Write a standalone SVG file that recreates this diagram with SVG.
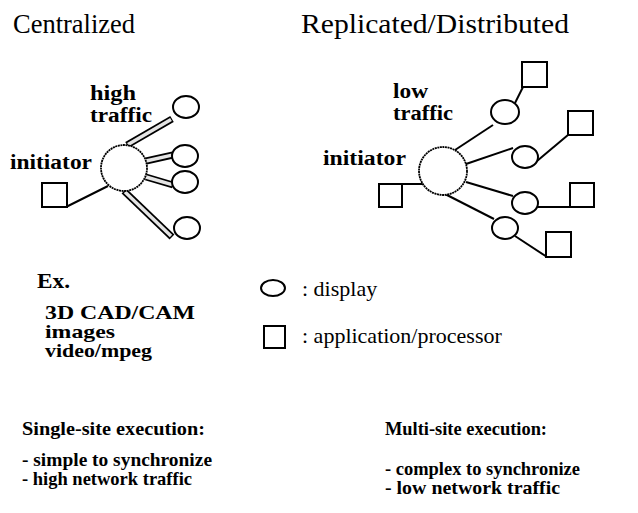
<svg xmlns="http://www.w3.org/2000/svg" width="638" height="513" viewBox="0 0 638 513">
<style>
text{font-family:"Liberation Serif","Times New Roman",serif;fill:#000}
.title{font-size:27px}
.lbl{font-size:20px;font-weight:bold}
.stk{font-size:19px;font-weight:bold}
.leg{font-size:22px}
.hub{fill:#fff;stroke:#000;stroke-width:1.8;stroke-dasharray:2 0.6}
.disp{fill:#fff;stroke:#000;stroke-width:2}
.app{fill:#fff;stroke:#000;stroke-width:2}
.ln{stroke:#000;stroke-width:2;fill:none}
.barO{stroke:#000;stroke-width:7;fill:none}
.barI{stroke:#e4e4e4;stroke-width:3.4;fill:none}
</style>
<rect width="638" height="513" fill="#fff"/>

<text class="title" x="13" y="33" textLength="122" lengthAdjust="spacingAndGlyphs">Centralized</text>
<text class="title" x="301" y="33" textLength="268" lengthAdjust="spacingAndGlyphs">Replicated/Distributed</text>

<!-- Centralized -->
<g id="connectors-left">
  <line class="ln" x1="66" y1="207" x2="108" y2="186"/>
  <line class="barO" x1="127" y1="145" x2="172" y2="119"/>
  <line class="barI" x1="128" y1="144.5" x2="171" y2="119.5"/>
  <line class="barO" x1="146" y1="161" x2="173" y2="155"/>
  <line class="barI" x1="146" y1="161" x2="172" y2="155.2"/>
  <line class="barO" x1="146" y1="177" x2="173" y2="185"/>
  <line class="barI" x1="146" y1="177" x2="172" y2="184.7"/>
  <line class="barO" x1="124" y1="191" x2="172" y2="237"/>
  <line class="barI" x1="125" y1="192" x2="171" y2="236"/>
</g>
<g id="c-hub"><circle class="hub" cx="124" cy="168" r="23"/></g>
<g id="c-init"><rect class="app" x="42" y="183" width="25" height="24"/></g>
<g id="c-d1"><ellipse class="disp" cx="186" cy="107" rx="13" ry="11"/></g>
<g id="c-d2"><ellipse class="disp" cx="185" cy="156" rx="13" ry="11"/></g>
<g id="c-d3"><ellipse class="disp" cx="185" cy="182" rx="13" ry="11"/></g>
<g id="c-d4"><ellipse class="disp" cx="187" cy="228" rx="13" ry="11"/></g>
<text class="lbl" x="90" y="100" textLength="46" lengthAdjust="spacingAndGlyphs">high</text>
<text class="lbl" x="90" y="122" textLength="62" lengthAdjust="spacingAndGlyphs">traffic</text>
<text class="lbl" x="10" y="169" textLength="82" lengthAdjust="spacingAndGlyphs">initiator</text>

<!-- Replicated -->
<g id="connectors-right">
  <line class="ln" x1="402" y1="184" x2="424" y2="184"/>
  <line class="ln" x1="455" y1="150" x2="493" y2="125"/>
  <line class="ln" x1="515" y1="103" x2="523" y2="87"/>
  <line class="ln" x1="466" y1="164" x2="513" y2="148"/>
  <line class="ln" x1="537" y1="161" x2="568" y2="135"/>
  <line class="ln" x1="466" y1="182" x2="513" y2="196"/>
  <line class="ln" x1="538" y1="207" x2="570" y2="207"/>
  <line class="ln" x1="445" y1="194" x2="494" y2="219"/>
  <line class="ln" x1="515" y1="236" x2="547" y2="257"/>
</g>
<g id="r-hub"><circle class="hub" cx="443" cy="171" r="24"/></g>
<g id="r-init"><rect class="app" x="379" y="184" width="23" height="23"/></g>
<g id="r-d1"><ellipse class="disp" cx="505" cy="112" rx="14" ry="12"/></g>
<g id="r-a1"><rect class="app" x="522" y="62" width="25" height="25"/></g>
<g id="r-d2"><ellipse class="disp" cx="525" cy="157" rx="13" ry="11"/></g>
<g id="r-a2"><rect class="app" x="568" y="111" width="25" height="24"/></g>
<g id="r-d3"><ellipse class="disp" cx="525" cy="203" rx="13" ry="11"/></g>
<g id="r-a3"><rect class="app" x="570" y="183" width="24" height="24"/></g>
<g id="r-d4"><ellipse class="disp" cx="505" cy="228" rx="13" ry="11"/></g>
<g id="r-a4"><rect class="app" x="546" y="232" width="25" height="25"/></g>
<text class="lbl" x="393" y="98" textLength="35" lengthAdjust="spacingAndGlyphs">low</text>
<text class="lbl" x="393" y="120" textLength="60" lengthAdjust="spacingAndGlyphs">traffic</text>
<text class="lbl" x="323" y="165" textLength="83" lengthAdjust="spacingAndGlyphs">initiator</text>

<!-- Examples -->
<text class="lbl" x="37" y="288" textLength="33" lengthAdjust="spacingAndGlyphs">Ex.</text>
<text class="stk" x="45" y="319" textLength="150" lengthAdjust="spacingAndGlyphs">3D CAD/CAM</text>
<text class="stk" x="45" y="338" textLength="70" lengthAdjust="spacingAndGlyphs">images</text>
<text class="stk" x="45" y="357" textLength="107" lengthAdjust="spacingAndGlyphs">video/mpeg</text>

<!-- Legend -->
<g id="legend-display"><ellipse class="disp" cx="273" cy="288" rx="12" ry="8"/></g>
<g id="legend-app"><rect class="app" x="264" y="326" width="21" height="22"/></g>
<text class="leg" x="302" y="296">: display</text>
<text class="leg" x="302" y="343">: application/processor</text>

<!-- Bottom -->
<text class="stk" x="22" y="435" textLength="183" lengthAdjust="spacingAndGlyphs">Single-site execution:</text>
<text class="stk" x="22" y="466" textLength="190" lengthAdjust="spacingAndGlyphs">- simple to synchronize</text>
<text class="stk" x="22" y="485" textLength="170" lengthAdjust="spacingAndGlyphs">- high network traffic</text>
<text class="stk" x="385" y="435" textLength="162" lengthAdjust="spacingAndGlyphs">Multi-site execution:</text>
<text class="stk" x="385" y="475" textLength="195" lengthAdjust="spacingAndGlyphs">- complex to synchronize</text>
<text class="stk" x="385" y="494" textLength="175" lengthAdjust="spacingAndGlyphs">- low network traffic</text>
</svg>
